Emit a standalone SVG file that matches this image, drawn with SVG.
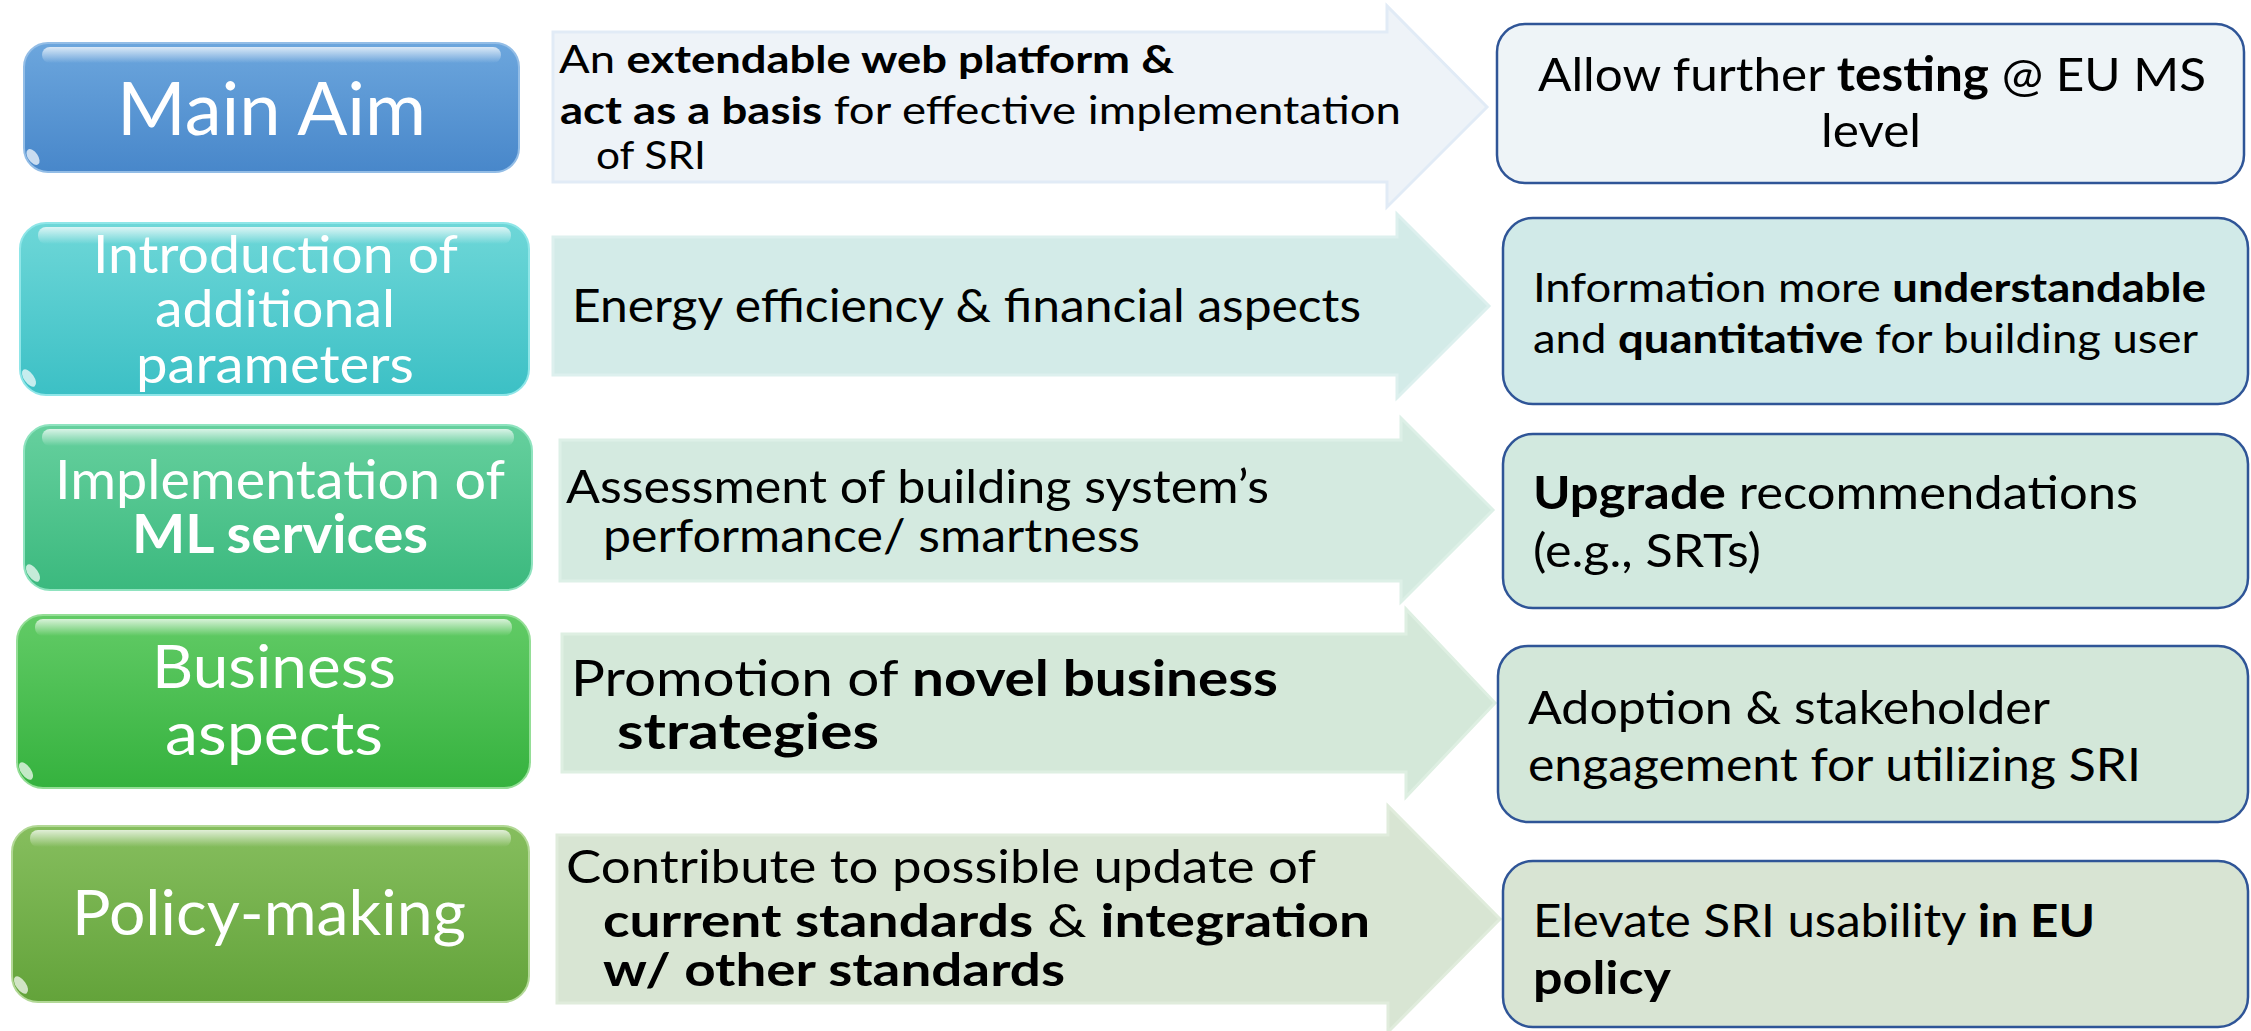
<svg xmlns="http://www.w3.org/2000/svg" width="2251" height="1031" viewBox="0 0 2251 1031">
<defs>
<linearGradient id="gBlue" x1="0" y1="0" x2="0" y2="1"><stop offset="0" stop-color="#6CA6DD"/><stop offset="1" stop-color="#4887CA"/></linearGradient>
<linearGradient id="gTeal" x1="0" y1="0" x2="0" y2="1"><stop offset="0" stop-color="#6ED7D8"/><stop offset="1" stop-color="#3CC0C5"/></linearGradient>
<linearGradient id="gSea" x1="0" y1="0" x2="0" y2="1"><stop offset="0" stop-color="#66D09E"/><stop offset="1" stop-color="#3BB97E"/></linearGradient>
<linearGradient id="gGreen" x1="0" y1="0" x2="0" y2="1"><stop offset="0" stop-color="#62CB66"/><stop offset="1" stop-color="#35B23E"/></linearGradient>
<linearGradient id="gOlive" x1="0" y1="0" x2="0" y2="1"><stop offset="0" stop-color="#86BE5E"/><stop offset="1" stop-color="#63A33A"/></linearGradient>
<linearGradient id="gloss" x1="0" y1="0" x2="0" y2="1"><stop offset="0" stop-color="#fff" stop-opacity="0.75"/><stop offset="1" stop-color="#fff" stop-opacity="0"/></linearGradient>
</defs>
<style>
.lbl{font-family:Lato,"Open Sans","Liberation Sans",sans-serif;fill:#fff}
.txt{font-family:Lato,"Open Sans","Liberation Sans",sans-serif;fill:#000}
.b{font-weight:bold}
.box{stroke-width:2}
.gl{fill:url(#gloss)}
.spark{fill:#fff;opacity:0.7}
.arr{stroke-width:3;stroke-linejoin:miter}
.rbox{stroke:#2F5597;stroke-width:2.5}
</style>

<g id="main-aim">
<rect class="box" x="24" y="43" width="495" height="129" rx="24" fill="url(#gBlue)" stroke="#93BDE6"/>
<rect class="gl" x="42" y="47" width="459" height="16" rx="8"/>
<ellipse class="spark" cx="33" cy="157" rx="5" ry="9" transform="rotate(-35 33 157)"/>
<text class="lbl" x="117" y="135" font-size="74" textLength="309" lengthAdjust="spacingAndGlyphs">Main Aim</text>
</g>

<g id="additional-parameters">
<rect class="box" x="20" y="223" width="509" height="172" rx="26" fill="url(#gTeal)" stroke="#8FE6E8"/>
<rect class="gl" x="38" y="227" width="473" height="17" rx="8"/>
<ellipse class="spark" cx="29" cy="378" rx="5" ry="10" transform="rotate(-35 29 378)"/>
<text class="lbl" font-size="53">
<tspan x="93" y="273" textLength="364" lengthAdjust="spacingAndGlyphs">Introduction of</tspan>
<tspan x="155" y="327" textLength="240" lengthAdjust="spacingAndGlyphs">additional</tspan>
<tspan x="136" y="383" textLength="278" lengthAdjust="spacingAndGlyphs">parameters</tspan>
</text>
</g>

<g id="ml-services">
<rect class="box" x="24" y="425" width="508" height="165" rx="26" fill="url(#gSea)" stroke="#8FE3BF"/>
<rect class="gl" x="42" y="429" width="472" height="17" rx="8"/>
<ellipse class="spark" cx="33" cy="573" rx="5" ry="10" transform="rotate(-35 33 573)"/>
<text class="lbl" x="55" y="499" font-size="54" textLength="450" lengthAdjust="spacingAndGlyphs">Implementation of</text>
<text class="lbl b" x="132" y="553" font-size="54" textLength="296" lengthAdjust="spacingAndGlyphs">ML services</text>
</g>

<g id="business-aspects">
<rect class="box" x="17" y="615" width="513" height="173" rx="26" fill="url(#gGreen)" stroke="#94DE96"/>
<rect class="gl" x="35" y="619" width="477" height="17" rx="8"/>
<ellipse class="spark" cx="26" cy="771" rx="5" ry="10" transform="rotate(-35 26 771)"/>
<text class="lbl" x="152" y="688" font-size="60" textLength="244" lengthAdjust="spacingAndGlyphs">Business</text>
<text class="lbl" x="165" y="755" font-size="60" textLength="218" lengthAdjust="spacingAndGlyphs">aspects</text>
</g>

<g id="policy-making">
<rect class="box" x="12" y="826" width="517" height="176" rx="26" fill="url(#gOlive)" stroke="#B2D896"/>
<rect class="gl" x="30" y="830" width="481" height="17" rx="8"/>
<ellipse class="spark" cx="21" cy="985" rx="5" ry="10" transform="rotate(-35 21 985)"/>
<text class="lbl" x="72" y="935" font-size="62" textLength="394" lengthAdjust="spacingAndGlyphs">Policy-making</text>
</g>

<g id="connectors">
<g id="arrow-1">
<path class="arr" d="M553,32 H1387 V6 L1487,107 L1387,207 V182 H553 Z" fill="#EEF3F8" stroke="#E1EBF6"/>
<text class="txt" font-size="38">
<tspan x="559" y="73" textLength="615" lengthAdjust="spacingAndGlyphs">An <tspan class="b">extendable web platform &amp;</tspan></tspan>
<tspan x="560" y="124" textLength="841" lengthAdjust="spacingAndGlyphs"><tspan class="b">act as a basis</tspan> for effective implementation</tspan>
<tspan x="596" y="169" textLength="110" lengthAdjust="spacingAndGlyphs">of SRI</tspan>
</text>
</g>
<g id="arrow-2">
<path class="arr" d="M553,237 H1397 V214 L1489,306 L1397,398 V375 H553 Z" fill="#D3EBE8" stroke="#DDF0EE"/>
<text class="txt" x="572" y="322" font-size="46" textLength="789" lengthAdjust="spacingAndGlyphs">Energy efficiency &amp; financial aspects</text>
</g>
<g id="arrow-3">
<path class="arr" d="M560,440 H1401 V418 L1493,510 L1401,602 V581 H560 Z" fill="#D4EAE0" stroke="#DDF0E7"/>
<text class="txt" font-size="46">
<tspan x="566" y="503" textLength="703" lengthAdjust="spacingAndGlyphs">Assessment of building system’s</tspan>
<tspan x="603" y="552" textLength="537" lengthAdjust="spacingAndGlyphs">performance/ smartness</tspan>
</text>
</g>
<g id="arrow-4">
<path class="arr" d="M562,634 H1406 V609 L1495,703 L1406,797 V772 H562 Z" fill="#D4E8D9" stroke="#DEEFE2"/>
<text class="txt" font-size="50">
<tspan x="571" y="696" textLength="707" lengthAdjust="spacingAndGlyphs">Promotion of <tspan class="b">novel business</tspan></tspan>
<tspan class="b" x="617" y="749" textLength="262" lengthAdjust="spacingAndGlyphs">strategies</tspan>
</text>
</g>
<g id="arrow-5">
<path class="arr" d="M557,835 H1388 V806 L1500,919 L1388,1032 V1003 H557 Z" fill="#D8E5D3" stroke="#E0ECDC"/>
<text class="txt" font-size="46">
<tspan x="566" y="883" textLength="749" lengthAdjust="spacingAndGlyphs">Contribute to possible update of</tspan>
<tspan x="603" y="937" textLength="767" lengthAdjust="spacingAndGlyphs"><tspan class="b">current standards</tspan> &amp; <tspan class="b">integration</tspan></tspan>
<tspan class="b" x="603" y="986" textLength="462" lengthAdjust="spacingAndGlyphs">w/ other standards</tspan>
</text>
</g>
</g>

<g id="outcome-testing">
<rect class="rbox" x="1497" y="24" width="747" height="159" rx="28" fill="#EEF4F7"/>
<text class="txt" font-size="47">
<tspan x="1538" y="91" textLength="668" lengthAdjust="spacingAndGlyphs">Allow further <tspan class="b">testing</tspan> @ EU MS</tspan>
<tspan x="1821" y="147" textLength="100" lengthAdjust="spacingAndGlyphs">level</tspan>
</text>
</g>

<g id="outcome-understandable">
<rect class="rbox" x="1503" y="218" width="745" height="186" rx="30" fill="#D1EAE8"/>
<text class="txt" font-size="40">
<tspan x="1533" y="302" textLength="673" lengthAdjust="spacingAndGlyphs">Information more <tspan class="b">understandable</tspan></tspan>
<tspan x="1533" y="353" textLength="665" lengthAdjust="spacingAndGlyphs">and <tspan class="b">quantitative</tspan>  for building user</tspan>
</text>
</g>

<g id="outcome-upgrade">
<rect class="rbox" x="1503" y="434" width="745" height="174" rx="30" fill="#D2E9DF"/>
<text class="txt" font-size="46">
<tspan x="1533" y="509" textLength="605" lengthAdjust="spacingAndGlyphs"><tspan class="b">Upgrade</tspan> recommendations</tspan>
<tspan x="1533" y="567" textLength="228" lengthAdjust="spacingAndGlyphs">(e.g., SRTs)</tspan>
</text>
</g>

<g id="outcome-adoption">
<rect class="rbox" x="1498" y="646" width="750" height="176" rx="30" fill="#D3E7D9"/>
<text class="txt" font-size="46">
<tspan x="1528" y="724" textLength="521" lengthAdjust="spacingAndGlyphs">Adoption &amp; stakeholder</tspan>
<tspan x="1528" y="781" textLength="613" lengthAdjust="spacingAndGlyphs">engagement for utilizing SRI</tspan>
</text>
</g>

<g id="outcome-policy">
<rect class="rbox" x="1503" y="861" width="745" height="166" rx="30" fill="#D8E4D3"/>
<text class="txt" font-size="46">
<tspan x="1533" y="937" textLength="562" lengthAdjust="spacingAndGlyphs">Elevate SRI usability <tspan class="b">in EU</tspan></tspan>
<tspan class="b" x="1533" y="994" textLength="138" lengthAdjust="spacingAndGlyphs">policy</tspan>
</text>
</g>
</svg>
